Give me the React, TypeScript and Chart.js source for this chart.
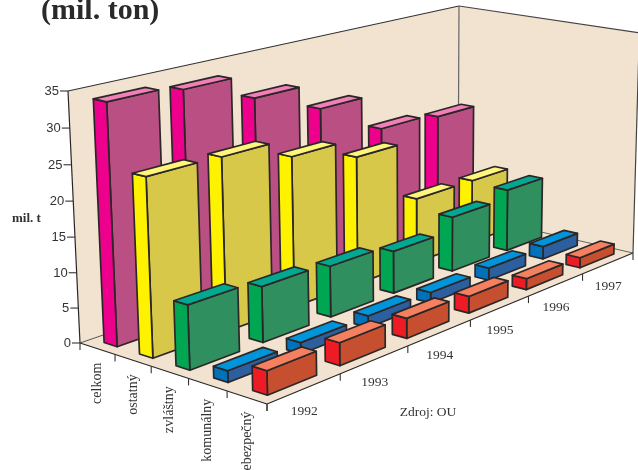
import React, { useEffect, useRef } from "react";
import { Chart, registerables, BarController } from "chart.js";

Chart.register(...registerables);

const years = ["1992", "1993", "1994", "1995", "1996", "1997"];
const categories = ["celkom", "ostatný", "zvláštny", "komunálny", "nebezpečný"];
const yTicks = { min: 0, max: 35, step: 5 };

const celkom = [33.9, 33.2, 29.6, 25.6, 20.0, 19.4];
const ostatny = [25.0, 24.9, 22.2, 19.4, 10.1, 10.1];
const zvlastny = [9.0, 8.0, 7.5, 6.4, 8.5, 9.8];
const komunalny = [1.6, 1.6, 1.7, 1.6, 1.9, 2.0];
const nebezpecny = [3.3, 3.2, 2.9, 2.5, 1.7, 1.6];

const seriesValues = [celkom, ostatny, zvlastny, komunalny, nebezpecny];
const sideColors = ["#EC008C", "#FFF200", "#00A651", "#0072BC", "#ED1C24"];
const frontColors = ["#B94F82", "#D8C84A", "#2F8F5F", "#2B5F9E", "#C64F30"];
const topColors = ["#F27FB8", "#FFF57A", "#00A98F", "#0095DA", "#F58060"];

// Camera: floor corners and the vanishing point of the vertical axis
const floorA = [80, 343];
const floorB = [267, 404];
const floorC = [633, 253];
const floorD = [458, 213];
const vanishing = [422.6, 7538];
const heightPerspective = -0.03384;

function makeCamera() {
  const [x0, y0] = floorA, [x1, y1] = floorB, [x2, y2] = floorC, [x3, y3] = floorD;
  const dx1 = x1 - x2, dy1 = y1 - y2, dx2 = x3 - x2, dy2 = y3 - y2;
  const sx = x0 - x1 + x2 - x3, sy = y0 - y1 + y2 - y3;
  const den = dx1 * dy2 - dx2 * dy1;
  const g = (sx * dy2 - dx2 * sy) / den;
  const h = (dx1 * sy - sx * dy1) / den;
  const a = x1 - x0 + g * x1, b = x3 - x0 + h * x3;
  const d = y1 - y0 + g * y1, e = y3 - y0 + h * y3;
  const r = heightPerspective;
  return (s: number, t: number, v: number): [number, number] => {
    const w = g * s + h * t + 1 + r * v;
    return [
      (a * s + b * t + x0 + vanishing[0] * r * v) / w,
      (d * s + e * t + y0 + vanishing[1] * r * v) / w,
    ];
  };
}
const camera = makeCamera();

function coords(chart: any) {
  const { x, y, z } = chart.scales;
  return {
    // year index, series index (band centre at integer) and value -> picture
    p(zi: number, xi: number, v: number) {
      const s = z.getDecimalForPixel(z.getPixelForValue(zi));
      const t = x.getDecimalForPixel(x.getPixelForValue(xi));
      const h = y.getDecimalForPixel(y.getPixelForValue(v));
      return camera(s, t, h);
    },
  };
}

function poly(ctx: CanvasRenderingContext2D, pts: number[][], fill: string | null, stroke: string | null, lw = 1.7) {
  ctx.beginPath();
  pts.forEach((q, i) => (i ? ctx.lineTo(q[0], q[1]) : ctx.moveTo(q[0], q[1])));
  ctx.closePath();
  if (fill) {
    ctx.fillStyle = fill;
    ctx.fill();
  }
  if (stroke) {
    ctx.strokeStyle = stroke;
    ctx.lineWidth = lw;
    ctx.lineJoin = "round";
    ctx.stroke();
  }
}

class Prism3DController extends (BarController as any) {
  static id = "prism3d";
  static defaults = { ...(BarController as any).defaults };
  static overrides = (BarController as any).overrides;
  draw() {
    const chart = (this as any).chart;
    const ctx: CanvasRenderingContext2D = chart.ctx;
    const meta = (this as any).getMeta();
    const i: number = (this as any).index;
    const { p } = coords(chart);
    const ink = "#2b2728";
    const s0 = i - 0.5 + 0.34, s1 = i - 0.5 + 0.71;
    for (let j = meta.data.length - 1; j >= 0; j--) {
      const v = (this as any).getParsed(j).y;
      const t0 = j - 0.5 + 0.16, t1 = j - 0.5 + 0.83;
      const bL = p(s0, t0, 0), bM = p(s1, t0, 0), bR = p(s1, t1, 0);
      const tL = p(s0, t0, v), tM = p(s1, t0, v), tR = p(s1, t1, v), tB = p(s0, t1, v);
      ctx.save();
      poly(ctx, [bM, bR, tR, tM], frontColors[i], ink);
      poly(ctx, [bL, bM, tM, tL], sideColors[i], ink);
      poly(ctx, [tL, tM, tR, tB], topColors[i], ink);
      ctx.restore();
    }
  }
}
Chart.register(Prism3DController as any);

const scene = {
  id: "scene",
  beforeDatasetsDraw(chart: any) {
    const ctx: CanvasRenderingContext2D = chart.ctx;
    const { y } = chart.scales;
    const { p } = coords(chart);
    const nS = categories.length, nT = years.length;
    const zMin = -0.5, zMax = nS - 0.5, xMin = -0.5, xMax = nT - 0.5;
    const top = y.max;
    const A = p(zMin, xMin, 0), B = p(zMax, xMin, 0), C = p(zMax, xMax, 0), D = p(zMin, xMax, 0);
    const At = p(zMin, xMin, top), Dt = p(zMin, xMax, top), Ct = p(zMax, xMax, top);
    ctx.save();
    const wall = "#F1E3CF";
    poly(ctx, [A, D, Dt, At], wall, null);
    poly(ctx, [D, C, Ct, Dt], wall, null);
    poly(ctx, [A, B, C, D], wall, null);
    const line = (a: number[], b: number[], color = "#2b2728", lw = 1.2) => {
      ctx.beginPath();
      ctx.moveTo(a[0], a[1]);
      ctx.lineTo(b[0], b[1]);
      ctx.strokeStyle = color;
      ctx.lineWidth = lw;
      ctx.stroke();
    };
    line(At, Dt, "#333");
    line(Dt, Ct, "#444");
    line(Dt, D, "#666");
    line(Ct, C, "#444");
    line(A, At);
    line(A, B);
    line(B, C);
    line(A, D, "#444", 0.9);
    line(D, C, "#555", 0.9);

    // value axis
    ctx.textAlign = "right";
    ctx.textBaseline = "middle";
    ctx.fillStyle = "#333";
    ctx.font = "13px 'Liberation Sans'";
    y.ticks.forEach((tick: any) => {
      const q = p(zMin, xMin, tick.value);
      line([q[0] - 8, q[1]], q, "#333", 1.1);
      ctx.fillStyle = "#333";
      ctx.fillText(String(tick.value), q[0] - 9, q[1] + 0.5);
    });

    // series axis
    for (let i = 0; i <= nS; i++) {
      const q = p(i - 0.5, xMin, 0);
      line(q, [q[0], q[1] + 7], "#333", 1.1);
    }
    ctx.font = "14px 'Liberation Serif'";
    ctx.fillStyle = "#333";
    categories.forEach((c, i) => {
      const q = p(i, xMin, 0);
      ctx.save();
      ctx.translate(q[0], q[1] + 14);
      ctx.rotate(-Math.PI / 2);
      ctx.textAlign = "right";
      ctx.textBaseline = "middle";
      ctx.fillText(c, 0, 0);
      ctx.restore();
    });

    // year axis
    for (let j = 0; j <= nT; j++) {
      const q = p(zMax, j - 0.5, 0);
      line(q, [q[0], q[1] + 7], "#333", 1.1);
    }
    ctx.textAlign = "center";
    ctx.textBaseline = "middle";
    ctx.fillStyle = "#333";
    ctx.font = "13.5px 'Liberation Serif'";
    years.forEach((yr, j) => {
      const q = p(zMax, j, 0);
      ctx.fillText(yr, q[0], q[1] + 23);
    });

    ctx.fillText("Zdroj: OU", 428, 412);
    ctx.textAlign = "left";
    ctx.font = "bold 13px 'Liberation Serif'";
    ctx.fillText("mil. t", 12, 219);
    ctx.textBaseline = "alphabetic";
    ctx.fillStyle = "#2a2a2a";
    ctx.font = "bold 30px 'Liberation Serif'";
    ctx.fillText("(mil. ton)", 41, 18.5);
    ctx.restore();
  },
};

export default function App() {
  const ref = useRef<HTMLCanvasElement>(null);
  useEffect(() => {
    const chart = new Chart(ref.current as HTMLCanvasElement, {
      type: "prism3d" as any,
      data: {
        labels: years,
        datasets: categories.map((label, i) => ({
          label,
          data: seriesValues[i],
          order: -i,
          xAxisID: "x",
          yAxisID: "y",
        })),
      },
      options: {
        animation: false,
        responsive: false,
        layout: { padding: 0 },
        plugins: { legend: { display: false }, title: { display: false }, tooltip: { enabled: false } },
        scales: {
          x: { type: "category", labels: years, offset: true, display: false },
          z: { type: "category", axis: "x", labels: categories, offset: true, display: false },
          y: { type: "linear", min: yTicks.min, max: yTicks.max, ticks: { stepSize: yTicks.step }, display: false },
        } as any,
      },
      plugins: [scene],
    } as any);
    return () => chart.destroy();
  }, []);
  return (
    <canvas
      ref={ref}
      width={638}
      height={470}
      style={{ position: "fixed", left: 0, top: 0, display: "block", background: "#fff" }}
    />
  );
}
